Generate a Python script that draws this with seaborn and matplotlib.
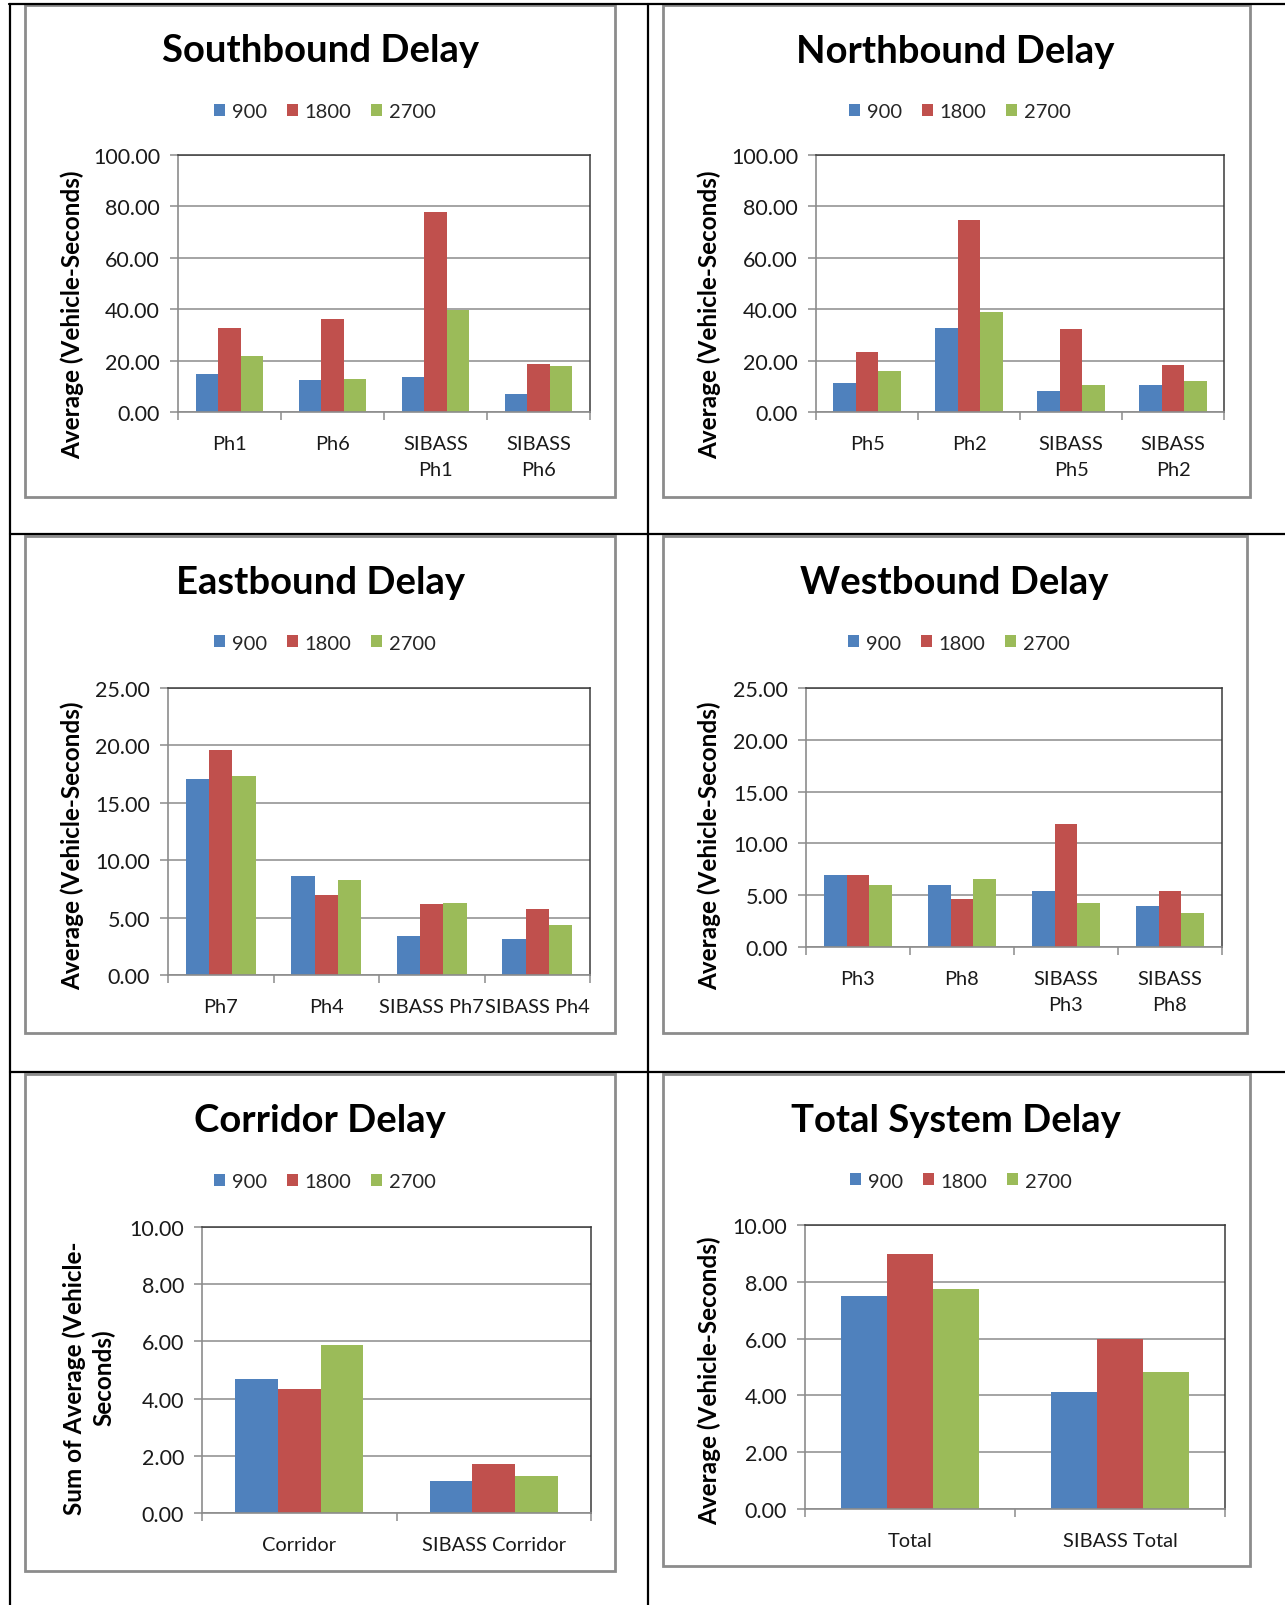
import matplotlib
matplotlib.use("Agg")
import matplotlib.pyplot as plt
import seaborn as sns
import pandas as pd
import numpy as np
from matplotlib.patches import Rectangle
from matplotlib.lines import Line2D
from matplotlib.ticker import FormatStrFormatter

sns.set_theme(style="white")
plt.rcParams['font.family'] = ['Lato', 'DejaVu Sans']

W, H = 1285, 1606

series = ["900", "1800", "2700"]
colors = ["#4F81BD", "#C0504D", "#9BBB59"]

# ---- data ----
sb_cats = ["Ph1", "Ph6", "SIBASS\nPh1", "SIBASS\nPh6"]
sb_900 = [14.9, 12.5, 13.7, 6.9]
sb_1800 = [32.8, 36.2, 78.0, 18.7]
sb_2700 = [21.7, 12.8, 39.7, 17.9]

nb_cats = ["Ph5", "Ph2", "SIBASS\nPh5", "SIBASS\nPh2"]
nb_900 = [11.4, 32.8, 8.2, 10.6]
nb_1800 = [23.5, 74.8, 32.4, 18.3]
nb_2700 = [15.8, 38.8, 10.6, 11.9]

eb_cats = ["Ph7", "Ph4", "SIBASS Ph7", "SIBASS Ph4"]
eb_900 = [17.06, 8.66, 3.37, 3.17]
eb_1800 = [19.56, 6.95, 6.16, 5.78]
eb_2700 = [17.35, 8.28, 6.25, 4.33]

wb_cats = ["Ph3", "Ph8", "SIBASS\nPh3", "SIBASS\nPh8"]
wb_900 = [6.92, 5.95, 5.44, 3.93]
wb_1800 = [6.92, 4.67, 11.84, 5.44]
wb_2700 = [5.95, 6.60, 4.25, 3.28]

co_cats = ["Corridor", "SIBASS Corridor"]
co_900 = [4.70, 1.12]
co_1800 = [4.35, 1.70]
co_2700 = [5.86, 1.30]

to_cats = ["Total", "SIBASS Total"]
to_900 = [7.49, 4.11]
to_1800 = [8.97, 5.98]
to_2700 = [7.76, 4.81]

titles = ["Southbound Delay", "Northbound Delay", "Eastbound Delay",
          "Westbound Delay", "Corridor Delay", "Total System Delay"]
ylabels = ["Average (Vehicle-Seconds)"] * 4 + ["Sum of Average (Vehicle-\nSeconds)",
                                               "Average (Vehicle-Seconds)"]


def make_df(cats, a, b, c):
    rows = []
    for s, vals in zip(series, [a, b, c]):
        for cat, v in zip(cats, vals):
            rows.append({"cat": cat, "series": s, "value": v})
    return pd.DataFrame(rows)


charts = [
    dict(df=make_df(sb_cats, sb_900, sb_1800, sb_2700), cats=sb_cats, ymax=100, step=20,
         box=(178, 590, 156, 413), title=(320, 51), legend=(325, 113), ylab=(72, 315),
         frame=(25, 615, 6, 498)),
    dict(df=make_df(nb_cats, nb_900, nb_1800, nb_2700), cats=nb_cats, ymax=100, step=20,
         box=(816, 1224, 156, 413), title=(955, 52), legend=(960, 113), ylab=(709, 315),
         frame=(663, 1250, 6, 498)),
    dict(df=make_df(eb_cats, eb_900, eb_1800, eb_2700), cats=eb_cats, ymax=25, step=5,
         box=(168, 590, 689, 976), title=(320, 583), legend=(325, 644), ylab=(72, 846),
         frame=(25, 615, 537, 1034)),
    dict(df=make_df(wb_cats, wb_900, wb_1800, wb_2700), cats=wb_cats, ymax=25, step=5,
         box=(806, 1222, 689, 948), title=(954, 583), legend=(959, 644), ylab=(709, 846),
         frame=(663, 1247, 537, 1034)),
    dict(df=make_df(co_cats, co_900, co_1800, co_2700), cats=co_cats, ymax=10, step=2,
         box=(202, 591, 1228, 1514), title=(320, 1121), legend=(325, 1183), ylab=(89, 1378),
         frame=(25, 615, 1075, 1572)),
    dict(df=make_df(to_cats, to_900, to_1800, to_2700), cats=to_cats, ymax=10, step=2,
         box=(805, 1225, 1226, 1510), title=(956, 1121), legend=(961, 1182), ylab=(709, 1381),
         frame=(663, 1250, 1075, 1567)),
]

fig = plt.figure(figsize=(W / 100, H / 100), dpi=100)
fig.patch.set_facecolor("white")

# table lines
lw_tab = 1.6
for (x0, y0, x1, y1) in [(9, 5, W, 5), (10, 5, 10, H), (648, 5, 648, H),
                         (10, 535, W, 535), (10, 1073, W, 1073)]:
    fig.add_artist(Line2D([x0 / W, x1 / W], [1 - y0 / H, 1 - y1 / H],
                          color="black", lw=lw_tab, transform=fig.transFigure))

GRID = "#8c8c8c"
FS = 15.5
FSX = 14.4
for i, ch in enumerate(charts):
    fx0, fx1, fy0, fy1 = ch["frame"]
    fig.add_artist(Rectangle((fx0 / W, 1 - fy1 / H), (fx1 - fx0) / W, (fy1 - fy0) / H,
                             transform=fig.transFigure, fill=False,
                             edgecolor="#8c8c8c", lw=2.0, zorder=0))
    l, r, t, b = ch["box"]
    ax = fig.add_axes([l / W, 1 - b / H, (r - l) / W, (b - t) / H])
    sns.barplot(data=ch["df"], x="cat", y="value", hue="series", order=ch["cats"],
                hue_order=series, palette=colors, width=0.66, saturation=1,
                linewidth=0, ax=ax, errorbar=None)
    n = len(ch["cats"])
    ax.set_xlim(-0.5, n - 0.5)
    ax.set_ylim(0, ch["ymax"])
    ax.set_yticks(np.arange(0, ch["ymax"] + ch["step"] / 2, ch["step"]))
    ax.yaxis.set_major_formatter(FormatStrFormatter("%.2f"))
    ax.set_xticks(np.arange(-0.5, n, 1), minor=True)
    ax.yaxis.grid(True, color=GRID, lw=1.1)
    ax.set_axisbelow(True)
    ax.set_xlabel("")
    ax.set_ylabel("")
    ax.tick_params(axis="x", which="major", length=0, pad=16.5, labelsize=FSX,
                   labelcolor="#1a1a1a")
    ax.tick_params(axis="x", which="minor", bottom=True, length=6, width=1.1,
                   color=GRID, direction="out")
    ax.tick_params(axis="y", which="major", left=True, length=6, width=1.1,
                   color=GRID, direction="out", pad=7, labelsize=FS,
                   labelcolor="#1a1a1a")
    for lab in ax.get_xticklabels():
        lab.set_linespacing(1.65)
        lab.set_verticalalignment("top")
    for s in ["left", "bottom"]:
        ax.spines[s].set_color(GRID)
        ax.spines[s].set_linewidth(1.2)
    for s in ["top", "right"]:
        ax.spines[s].set_color("#3a3a3a")
        ax.spines[s].set_linewidth(1.1)
    handles, labels = ax.get_legend_handles_labels()
    if ax.get_legend() is not None:
        ax.get_legend().remove()
    lx, ly = ch["legend"]
    fig.legend(handles, labels, loc="center", bbox_to_anchor=(lx / W, 1 - ly / H),
               ncol=3, frameon=False, fontsize=14.5, handlelength=0.55,
               handleheight=0.55, handletextpad=0.35, columnspacing=0.95,
               borderaxespad=0, borderpad=0)
    tx, ty = ch["title"]
    fig.text(tx / W, 1 - ty / H, titles[i], ha="center", va="center",
             fontsize=27.5, fontweight="bold", color="black")
    yx, yy = ch["ylab"]
    fig.text(yx / W, 1 - yy / H, ylabels[i], ha="center", va="center", rotation=90,
             fontsize=17.5, fontweight="bold", color="black", linespacing=1.3)

fig.savefig("out.png", dpi=100, facecolor="white")
